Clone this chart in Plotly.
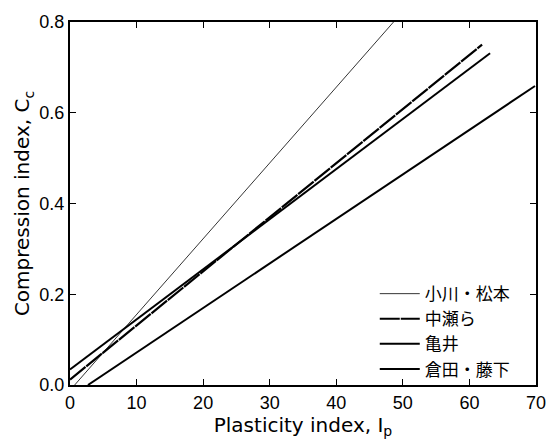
import plotly.graph_objects as go

# Line endpoints (Ip, Cc)
names = ["小川・松本", "中瀬ら", "亀井", "倉田・藤下"]
ip_start = [0.7, 0.0, 0.0, 2.7]
ip_end = [48.6, 61.9, 63.1, 69.85]
cc_start = [0.0, 0.012, 0.034, 0.0]
cc_end = [0.80, 0.750, 0.731, 0.659]

widths = [0.8, 2.2, 2.0, 2.0]
dashes = ["solid", "20px,1px", "solid", "solid"]

xticks = [0, 10, 20, 30, 40, 50, 60, 70]
yticks = [0.0, 0.2, 0.4, 0.6, 0.8]

fig = go.Figure()
for i, n in enumerate(names):
    fig.add_trace(go.Scatter(
        x=[ip_start[i], ip_end[i]], y=[cc_start[i], cc_end[i]],
        mode="lines", name=n,
        line=dict(color="black", width=widths[i], dash=dashes[i]),
    ))

font_family = "Liberation Sans, Arial, Noto Sans CJK JP, sans-serif"
title_family = "DejaVu Sans, Liberation Sans, sans-serif"
axis_common = dict(
    showline=True, linecolor="black", linewidth=2, mirror="ticks",
    ticks="inside", ticklen=6, tickwidth=1, tickcolor="black",
    showgrid=False, zeroline=False,
    tickfont=dict(size=18, color="black", family=font_family),
)
fig.update_xaxes(range=[0, 70], tickvals=xticks,
                 title=dict(text="Plasticity index, I<sub>p</sub>", standoff=2,
                            font=dict(size=20, color="black", family=title_family)),
                 **axis_common)
fig.update_yaxes(range=[0, 0.8], tickvals=yticks, tickformat=".1f",
                 title=dict(text="Compression index, C<sub>c</sub>", standoff=4,
                            font=dict(size=20, color="black", family=title_family)),
                 **axis_common)

fig.update_layout(
    width=558, height=441,
    margin=dict(l=70, r=12, t=18, b=43),
    plot_bgcolor="white", paper_bgcolor="white",
    font=dict(family=font_family, color="black"),
    legend=dict(x=0.654, y=0.30, xanchor="left", yanchor="top",
                bgcolor="rgba(0,0,0,0)",
                font=dict(size=17, color="black",
                          family="Noto Sans CJK JP, Liberation Sans, sans-serif"),
                tracegroupgap=0, itemwidth=40),
    showlegend=True,
)

fig.write_html("out.html")
